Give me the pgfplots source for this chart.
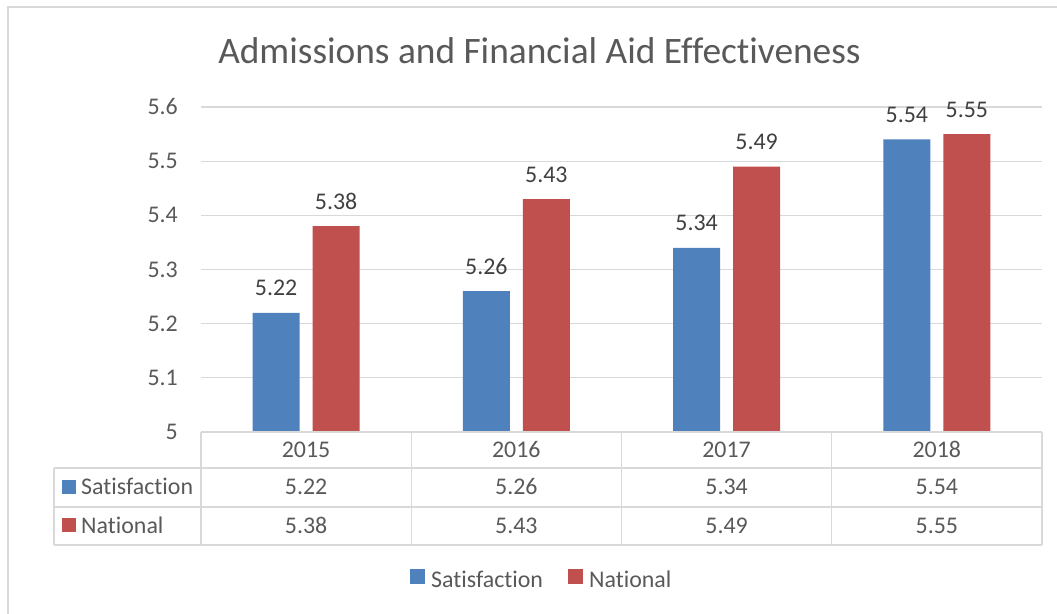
\documentclass[border=0pt]{standalone}
\usepackage{fontspec}
\setmainfont{Carlito}[Ligatures=NoCommon]
\usepackage{pgfplots}
\pgfplotsset{compat=1.18}
\definecolor{sat}{HTML}{4F81BD}
\definecolor{nat}{HTML}{C0504D}
\definecolor{gridc}{HTML}{D9D9D9}
\definecolor{txt}{HTML}{595959}
\definecolor{lbl}{HTML}{404040}
\begin{document}
\begin{tikzpicture}[x=1bp,y=1bp]
\useasboundingbox (0,0) rectangle (1057,614);
\draw[gridc, line width=1.3bp] (8,0) -- (8,607) -- (1057,607);
\node[anchor=base, font=\fontsize{37.5}{44}\selectfont, text=txt, inner sep=0pt] at (539.5,550) {Admissions and Financial Aid Effectiveness};
\begin{axis}[
  at={(201bp,182bp)}, anchor=south west,
  scale only axis, width=841bp, height=357.5bp,
  xmin=-0.5, xmax=3.5, ymin=5, ymax=5.66,
  xtick=\empty,
  ytick={5,5.1,5.2,5.3,5.4,5.5,5.6},
  ymajorgrids, grid style={gridc, line width=1.3bp},
  axis line style={draw=none},
  major tick length=0pt,
  /pgf/number format/assume math mode=true,
  yticklabel style={font=\fontsize{24}{28}\selectfont, text=txt, anchor=east, inner sep=0pt, xshift=-23bp, /pgf/number format/fixed, /pgf/number format/precision=1},
  ybar, bar width=0.2235,
  nodes near coords,
  every node near coord/.append style={font=\fontsize{24}{28}\selectfont, text=lbl, inner sep=0pt, anchor=base, yshift=17bp},
  legend columns=2,
  legend style={at={(0.404,-0.410)}, anchor=center, draw=none, fill=none, font=\fontsize{24}{28}\selectfont, text=txt, nodes={inner sep=0pt}, /tikz/every even column/.append style={column sep=25bp}},
  legend image code/.code={\fill[#1] (0bp,-4bp) rectangle (15bp,11bp); \path (21bp,0bp);},
]
\addplot[fill=sat, draw=none, bar shift=-0.1427] coordinates {(0,5.22) (1,5.26) (2,5.34) (3,5.54)};
\addplot[fill=nat, draw=none, bar shift=0.1427] coordinates {(0,5.38) (1,5.43) (2,5.49) (3,5.55)};
\legend{Satisfaction, National}
\end{axis}
\begin{scope}[gridc, line width=1.3bp]
\draw (201,182) -- (1042,182);
\draw (54,146) -- (1042,146);
\draw (54,107) -- (1042,107);
\draw (54,69) -- (1042,69);
\draw (54,146) -- (54,69);
\foreach \x in {201,411.25,621.5,831.75,1042} \draw (\x,182) -- (\x,69);
\end{scope}
\begin{scope}[every node/.style={font=\fontsize{24}{28}\selectfont, text=txt, inner sep=0pt}]
\foreach \yr/\a/\b [count=\i from 0] in {2015/5.22/5.38, 2016/5.26/5.43, 2017/5.34/5.49, 2018/5.54/5.55} {
  \node[anchor=base] at ({306.1+210.25*\i},156.5) {\yr};
  \node[anchor=base] at ({306.1+210.25*\i},119.5) {\a};
  \node[anchor=base] at ({306.1+210.25*\i},80.5) {\b};
}
\fill[sat] (62,120) rectangle (76,134);
\node[anchor=base west] at (81,119.5) {Satisfaction};
\fill[nat] (62,82) rectangle (76,96);
\node[anchor=base west] at (81,80.5) {National};
\end{scope}
\end{tikzpicture}
\end{document}
